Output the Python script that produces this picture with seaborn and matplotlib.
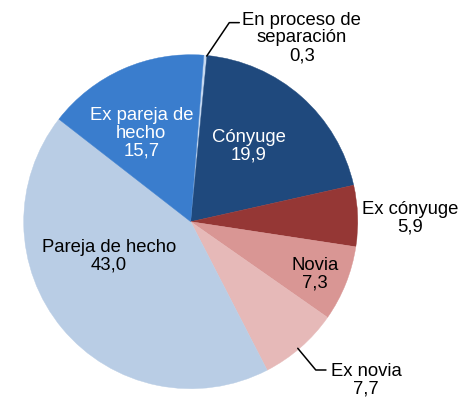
import matplotlib
matplotlib.use("Agg")
import matplotlib.pyplot as plt
import seaborn as sns

categories = ["En proceso de\nseparación", "Cónyuge", "Ex cónyuge", "Novia",
              "Ex novia", "Pareja de hecho", "Ex pareja de\nhecho"]
values = [0.3, 19.9, 5.9, 7.3, 7.7, 43.0, 15.7]
value_labels = ["0,3", "19,9", "5,9", "7,3", "7,7", "43,0", "15,7"]

colors = ["#c6d9f1", "#1f497d", "#953735", "#d99694", "#e6b9b8", "#b9cde5", "#3a7dcd"]
text_colors = ["black", "white", "black", "black", "black", "black", "white"]
label_pos = [(0.666, 1.100), (0.347, 0.453), (1.313, 0.022), (0.744, -0.313),
             (1.050, -0.948), (-0.489, -0.205), (-0.296, 0.531)]

sns.set_theme(style="white")
plt.rcParams["font.family"] = ["Liberation Sans", "DejaVu Sans"]

W, H = 473, 401
fig = plt.figure(figsize=(W / 100, H / 100), dpi=100)
r_px = 167
cx, cy = 190.7, 221.7
ax = fig.add_axes([(cx - r_px) / W, (H - cy - r_px) / H, 2 * r_px / W, 2 * r_px / H])

wedges, _ = ax.pie(values, colors=colors, startangle=90 - 4.5, counterclock=False,
                   wedgeprops=dict(linewidth=0), radius=1.0)
for w in wedges:
    w.set_edgecolor(w.get_facecolor())
    w.set_linewidth(0.3)
ax.set_xlim(-1, 1)
ax.set_ylim(-1, 1)
ax.set_aspect("auto")
ax.axis("off")

for cat, val, (x, y), tc in zip(categories, value_labels, label_pos, text_colors):
    ax.text(x, y, f"{cat}\n{val}", ha="center", va="center", fontsize=13.3,
            color=tc, linespacing=1.05, clip_on=False)

# leader lines
ax.plot([0.096, 0.231, 0.291], [0.992, 1.192, 1.192], color="black", lw=1.1, clip_on=False)
ax.plot([0.641, 0.749, 0.810], [-0.758, -0.888, -0.888], color="black", lw=1.1, clip_on=False)

fig.savefig("out.png", dpi=100)
